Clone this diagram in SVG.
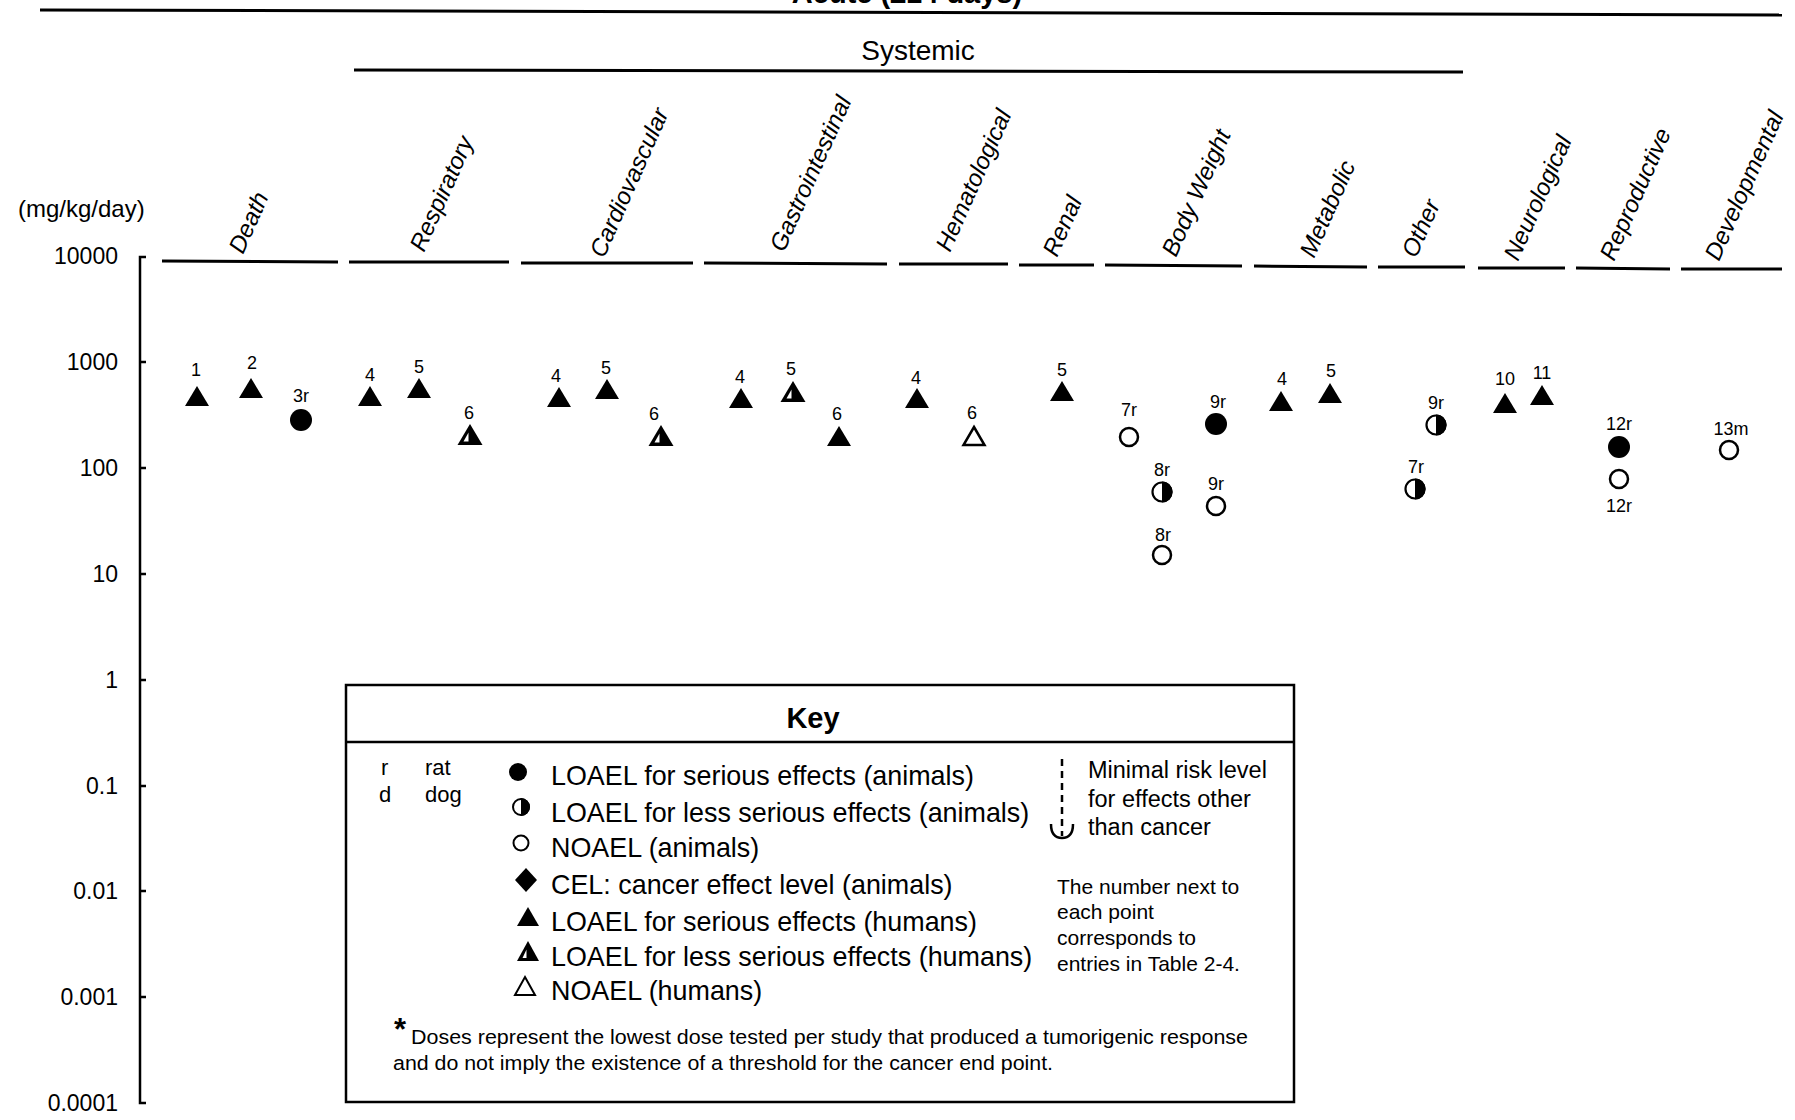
<svg xmlns="http://www.w3.org/2000/svg" xmlns:xlink="http://www.w3.org/1999/xlink" width="1795" height="1120" viewBox="0 0 1795 1120">
<style>
text{font-family:"Liberation Sans",Arial,sans-serif;fill:#000}
.tick{font-size:23px;text-anchor:end}
.cat{font-size:24px;font-style:italic}
.lab{font-size:18px;text-anchor:middle}
.key{font-size:26.9px}
.small{font-size:21px}
.mrl{font-size:23.5px}
.rule{stroke:#000;stroke-width:3;fill:none}
.seg{stroke:#000;stroke-width:3;fill:none}
.ax{stroke:#000;stroke-width:2.5;fill:none}
</style>
<defs>
<g id="triF"><polygon points="0,-10 12,10 -12,10" fill="#000"/></g>
<g id="triH"><polygon points="0,-11 12.5,10 -12.5,10" fill="#000"/><polygon points="-6.5,6.5 -1.5,6.5 -1.5,-2.5" fill="#fff"/></g>
<g id="triO"><polygon points="0,-9 10.5,9 -10.5,9" fill="#fff" stroke="#000" stroke-width="2.5"/></g>
<g id="cirF"><circle r="11" fill="#000"/></g>
<g id="cirO"><circle r="9" fill="#fff" stroke="#000" stroke-width="2.5"/></g>
<g id="cirH"><circle r="9.5" fill="#fff" stroke="#000" stroke-width="2.2"/><path d="M0,-10.6 A10.6,10.6 0 0 1 0,10.6 Z" fill="#000"/></g>
</defs>
<rect width="1795" height="1120" fill="#fff"/>

<g id="header">
<text x="907" y="3" font-size="29" font-weight="bold" text-anchor="middle">Acute (≤14 days)</text>
<text x="918" y="60" font-size="28" text-anchor="middle">Systemic</text>
</g>

<g id="connectors">
<line class="rule" x1="40" y1="10" x2="1782" y2="15"/>
<line class="rule" x1="354" y1="70" x2="1463" y2="72"/>
<g id="baseline-segments">
<line class="seg" x1="162" y1="261" x2="338" y2="262"/>
<line class="seg" x1="349" y1="262" x2="509" y2="262"/>
<line class="seg" x1="521" y1="263" x2="693" y2="263"/>
<line class="seg" x1="704" y1="263" x2="887" y2="264"/>
<line class="seg" x1="899" y1="264" x2="1008" y2="264"/>
<line class="seg" x1="1019" y1="265" x2="1094" y2="265"/>
<line class="seg" x1="1105" y1="265" x2="1242" y2="266"/>
<line class="seg" x1="1254" y1="266" x2="1367" y2="267"/>
<line class="seg" x1="1378" y1="267" x2="1465" y2="267"/>
<line class="seg" x1="1478" y1="268" x2="1565" y2="268"/>
<line class="seg" x1="1576" y1="268" x2="1670" y2="269"/>
<line class="seg" x1="1681" y1="269" x2="1782" y2="269"/>
</g>
</g>

<g id="y-axis">
<path class="ax" d="M146,257 H140 V1103 H146"/>
<path class="ax" d="M140,362 h6 M140,468 h6 M140,574 h6 M140,680 h6 M140,786 h6 M140,891 h6 M140,997 h6"/>
<text x="18" y="217" font-size="24">(mg/kg/day)</text>
<text class="tick" x="118" y="264">10000</text>
<text class="tick" x="118" y="370">1000</text>
<text class="tick" x="118" y="476">100</text>
<text class="tick" x="118" y="582">10</text>
<text class="tick" x="118" y="688">1</text>
<text class="tick" x="118" y="794">0.1</text>
<text class="tick" x="118" y="899">0.01</text>
<text class="tick" x="118" y="1005">0.001</text>
<text class="tick" x="118" y="1111">0.0001</text>
</g>

<g id="categories">
<text class="cat" transform="translate(243,255) rotate(-66)">Death</text>
<text class="cat" transform="translate(424,253) rotate(-66)">Respiratory</text>
<text class="cat" transform="translate(604,259) rotate(-66)">Cardiovascular</text>
<text class="cat" transform="translate(784,253) rotate(-66)">Gastrointestinal</text>
<text class="cat" transform="translate(950,253) rotate(-66)">Hematological</text>
<text class="cat" transform="translate(1057,258) rotate(-66)">Renal</text>
<text class="cat" transform="translate(1176,258) rotate(-66)">Body Weight</text>
<text class="cat" transform="translate(1314,259) rotate(-66)">Metabolic</text>
<text class="cat" transform="translate(1416,259) rotate(-66)">Other</text>
<text class="cat" transform="translate(1518,262) rotate(-66)">Neurological</text>
<text class="cat" transform="translate(1614,262) rotate(-66)">Reproductive</text>
<text class="cat" transform="translate(1719,262) rotate(-66)">Developmental</text>
</g>

<g id="points">
<g id="p-death-1"><use xlink:href="#triF" x="197" y="396"/><text class="lab" x="196" y="376">1</text></g>
<g id="p-death-2"><use xlink:href="#triF" x="251" y="388"/><text class="lab" x="252" y="369">2</text></g>
<g id="p-death-3r"><use xlink:href="#cirF" x="301" y="420"/><text class="lab" x="301" y="402">3r</text></g>
<g id="p-resp-4"><use xlink:href="#triF" x="370" y="396"/><text class="lab" x="370" y="381">4</text></g>
<g id="p-resp-5"><use xlink:href="#triF" x="419" y="388"/><text class="lab" x="419" y="373">5</text></g>
<g id="p-resp-6"><use xlink:href="#triH" x="470" y="435"/><text class="lab" x="469" y="419">6</text></g>
<g id="p-card-4"><use xlink:href="#triF" x="559" y="397"/><text class="lab" x="556" y="382">4</text></g>
<g id="p-card-5"><use xlink:href="#triF" x="607" y="389"/><text class="lab" x="606" y="374">5</text></g>
<g id="p-card-6"><use xlink:href="#triH" x="661" y="436"/><text class="lab" x="654" y="420">6</text></g>
<g id="p-gi-4"><use xlink:href="#triF" x="741" y="398"/><text class="lab" x="740" y="383">4</text></g>
<g id="p-gi-5"><use xlink:href="#triH" x="793" y="392"/><text class="lab" x="791" y="375">5</text></g>
<g id="p-gi-6"><use xlink:href="#triF" x="839" y="436"/><text class="lab" x="837" y="420">6</text></g>
<g id="p-hem-4"><use xlink:href="#triF" x="917" y="398"/><text class="lab" x="916" y="384">4</text></g>
<g id="p-hem-6"><use xlink:href="#triO" x="974" y="436"/><text class="lab" x="972" y="419">6</text></g>
<g id="p-ren-5"><use xlink:href="#triF" x="1062" y="391"/><text class="lab" x="1062" y="376">5</text></g>
<g id="p-bw-7r"><use xlink:href="#cirO" x="1129" y="437"/><text class="lab" x="1129" y="416">7r</text></g>
<g id="p-bw-8r-a"><use xlink:href="#cirH" x="1162" y="492"/><text class="lab" x="1162" y="476">8r</text></g>
<g id="p-bw-8r-b"><use xlink:href="#cirO" x="1162" y="555"/><text class="lab" x="1163" y="541">8r</text></g>
<g id="p-bw-9r-a"><use xlink:href="#cirF" x="1216" y="424"/><text class="lab" x="1218" y="408">9r</text></g>
<g id="p-bw-9r-b"><use xlink:href="#cirO" x="1216" y="506"/><text class="lab" x="1216" y="490">9r</text></g>
<g id="p-met-4"><use xlink:href="#triF" x="1281" y="401"/><text class="lab" x="1282" y="385">4</text></g>
<g id="p-met-5"><use xlink:href="#triF" x="1330" y="393"/><text class="lab" x="1331" y="377">5</text></g>
<g id="p-oth-9r"><use xlink:href="#cirH" x="1436" y="425"/><text class="lab" x="1436" y="409">9r</text></g>
<g id="p-oth-7r"><use xlink:href="#cirH" x="1415" y="489"/><text class="lab" x="1416" y="473">7r</text></g>
<g id="p-neu-10"><use xlink:href="#triF" x="1505" y="403"/><text class="lab" x="1505" y="385">10</text></g>
<g id="p-neu-11"><use xlink:href="#triF" x="1542" y="395"/><text class="lab" x="1542" y="379">11</text></g>
<g id="p-rep-12r-a"><use xlink:href="#cirF" x="1619" y="447"/><text class="lab" x="1619" y="430">12r</text></g>
<g id="p-rep-12r-b"><use xlink:href="#cirO" x="1619" y="479"/><text class="lab" x="1619" y="512">12r</text></g>
<g id="p-dev-13m"><use xlink:href="#cirO" x="1729" y="450"/><text class="lab" x="1731" y="435">13m</text></g>
</g>

<g id="key">
<rect x="346" y="685" width="948" height="417" fill="none" stroke="#000" stroke-width="2.5"/>
<line x1="346" y1="742" x2="1294" y2="742" stroke="#000" stroke-width="2.5"/>
<text x="813" y="728" font-size="29" font-weight="bold" text-anchor="middle">Key</text>
<text x="381" y="775" font-size="22">r</text>
<text x="425" y="775" font-size="22">rat</text>
<text x="379" y="802" font-size="22">d</text>
<text x="425" y="802" font-size="22">dog</text>
<circle cx="518" cy="772" r="9" fill="#000"/>
<g transform="translate(521,807)"><circle r="8" fill="#fff" stroke="#000" stroke-width="2"/><path d="M0,-9 A9,9 0 0 1 0,9 Z" fill="#000"/></g>
<circle cx="521" cy="843" r="7.5" fill="#fff" stroke="#000" stroke-width="2"/>
<polygon points="526,868 537,880 526,892 515,880" fill="#000"/>
<polygon points="528,907 539,926 517,926" fill="#000"/>
<g transform="translate(528,952)"><polygon points="0,-11 11,9 -11,9" fill="#000"/><polygon points="-5.5,6 -1.5,6 -1.5,-2.5" fill="#fff"/></g>
<polygon points="525,977 535,995 515,995" fill="#fff" stroke="#000" stroke-width="2"/>
<text class="key" x="551" y="785">LOAEL for serious effects (animals)</text>
<text class="key" x="551" y="822">LOAEL for less serious effects (animals)</text>
<text class="key" x="551" y="857">NOAEL (animals)</text>
<text class="key" x="551" y="894">CEL: cancer effect level (animals)</text>
<text class="key" x="551" y="931">LOAEL for serious effects (humans)</text>
<text class="key" x="551" y="966">LOAEL for less serious effects (humans)</text>
<text class="key" x="551" y="1000">NOAEL (humans)</text>
<line x1="1062" y1="759" x2="1062" y2="836" stroke="#000" stroke-width="2.5" stroke-dasharray="7,5"/>
<path d="M1051,824 Q1051,838 1062,838 Q1073,838 1073,824" fill="none" stroke="#000" stroke-width="2.5"/>
<text class="mrl" x="1088" y="778">Minimal risk level</text>
<text class="mrl" x="1088" y="807">for effects other</text>
<text class="mrl" x="1088" y="835">than cancer</text>
<text class="small" x="1057" y="894">The number next to</text>
<text class="small" x="1057" y="919">each point</text>
<text class="small" x="1057" y="945">corresponds to</text>
<text class="small" x="1057" y="971">entries in Table 2-4.</text>
<text x="394" y="1040" font-size="31" font-weight="bold">*</text>
<text x="411" y="1044" font-size="20.5" textLength="837" lengthAdjust="spacingAndGlyphs">Doses represent the lowest dose tested per study that produced a tumorigenic response</text>
<text x="393" y="1070" font-size="20.5" textLength="660" lengthAdjust="spacingAndGlyphs">and do not imply the existence of a threshold for the cancer end point.</text>
</g>
</svg>
